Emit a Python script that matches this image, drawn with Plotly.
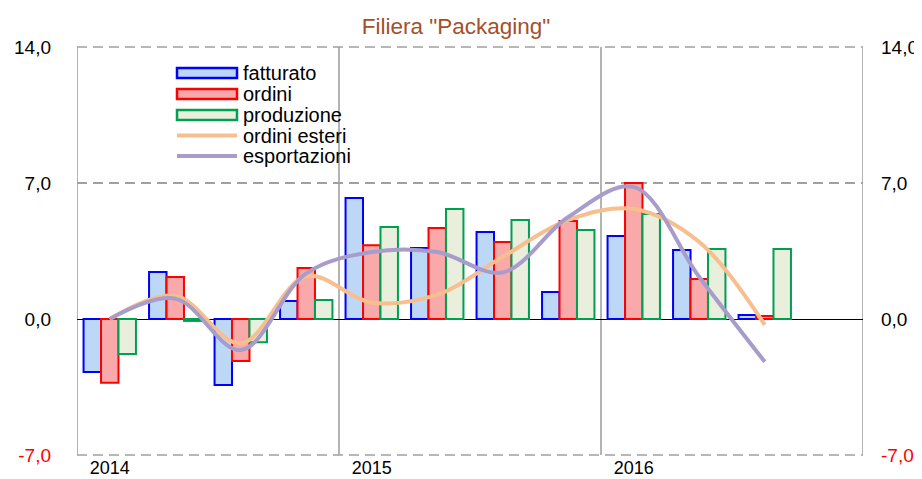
import plotly.graph_objects as go

quarters = ["2014 T1", "2014 T2", "2014 T3", "2014 T4",
            "2015 T1", "2015 T2", "2015 T3", "2015 T4",
            "2016 T1", "2016 T2", "2016 T3", "2016 T4"]
year_labels = ["2014", "2015", "2016"]
year_first_quarter = [0, 4, 8]
year_bounds = [-0.5, 3.5, 7.5, 11.5]

fatturato = [-2.73, 2.42, -3.40, 0.93, 6.23, 3.65, 4.48, 1.39, 4.27, 3.55, 0.20, None]
ordini = [-3.28, 2.16, -2.16, 2.62, 3.80, 4.68, 3.96, 5.04, 7.00, 2.06, 0.15, None]
produzione = [-1.80, -0.10, -1.20, 0.98, 4.73, 5.66, 5.10, 4.58, 5.40, 3.60, 3.60, None]
ordini_esteri = [0.0, 1.2, -1.25, 2.2, 0.85, 1.25, 3.2, 5.1, 5.66, 3.96, -0.3, None]
esportazioni = [0.0, 1.05, -1.6, 2.35, 3.45, 3.45, 2.4, 5.25, 6.8, 2.16, -2.2, None]

y_ticks = [-7, 0, 7, 14]

series_names = ["fatturato", "ordini", "produzione", "ordini esteri", "esportazioni"]
series_colors = {
    "fatturato": ("#BDD8F7", "#0000FF"),
    "ordini": ("#F9A9A9", "#FF0000"),
    "produzione": ("#E9EEDD", "#00A050"),
    "ordini esteri": (None, "#F8BF8E"),
    "esportazioni": (None, "#A89CCB"),
}

x = list(range(len(quarters)))
FONT = "Liberation Sans, Arial, sans-serif"

# The page body has an 8px default margin: size the figure so it ends at the window edge.
OFF = 8
FIG_W, FIG_H = 922 - OFF, 479 - OFF
# plot-area geometry in window pixels
L, R, T, B = 77, 863, 47, 455
W, H = R - L, B - T
def px(v):
    return (v - L) / W
def py(v):
    return (B - v) / H

fig = go.Figure()
for name, vals in [("fatturato", fatturato), ("ordini", ordini), ("produzione", produzione)]:
    fill, edge = series_colors[name]
    fig.add_trace(go.Bar(x=x, y=vals, name=name, showlegend=False,
                         marker=dict(color=fill, line=dict(color=edge, width=2))))
for name, vals in [("ordini esteri", ordini_esteri), ("esportazioni", esportazioni)]:
    fig.add_trace(go.Scatter(x=x, y=vals, name=name, mode="lines", showlegend=False,
                             line=dict(color=series_colors[name][1], width=4,
                                       shape="spline", smoothing=1.0)))
# invisible trace to activate the right axis
fig.add_trace(go.Scatter(x=[x[0]], y=[0], yaxis="y2", showlegend=False,
                         mode="markers", marker=dict(opacity=0), hoverinfo="skip"))

def tick_text(v):
    s = f"{v:.1f}".replace(".", ",")
    if v < 0:
        return f'<span style="color:#FF0000">{s}</span>'
    return s

ticktext = [tick_text(v) for v in y_ticks]

DASH = "10px,6px"
shapes = []
for b in year_bounds:
    shapes.append(dict(type="line", xref="x", yref="paper", x0=b, x1=b, y0=0, y1=1.0,
                       line=dict(color="#8C8C8C", width=1.3), layer="below"))
# dashed lines on the top and bottom edges (-7 and 14)
for yp in (0, 1):
    shapes.append(dict(type="line", xref="paper", yref="paper", x0=0, x1=1, y0=yp, y1=yp,
                       line=dict(color="#A0A0A0", width=1.5, dash=DASH), layer="below"))

# hand-drawn legend (wide symbols, tight rows as in the original)
annotations = []
row_y = [73, 94, 115, 135.5, 156]
sx0, sx1, tx = 177, 237, 241
for name, ry in zip(series_names, row_y):
    fill, edge = series_colors[name]
    if fill is not None:
        shapes.append(dict(type="rect", xref="paper", yref="paper",
                           x0=px(sx0), x1=px(sx1), y0=py(ry + 5), y1=py(ry - 5),
                           fillcolor=fill, line=dict(color=edge, width=2.5)))
    else:
        shapes.append(dict(type="line", xref="paper", yref="paper",
                           x0=px(sx0), x1=px(sx1), y0=py(ry), y1=py(ry),
                           line=dict(color=edge, width=4)))
    annotations.append(dict(text=name, xref="paper", yref="paper", x=px(tx), y=py(ry),
                            xanchor="left", yanchor="middle", showarrow=False,
                            font=dict(family=FONT, size=20, color="#000000")))

title_cx, title_cy = 456, 26  # window pixels

fig.update_layout(
    width=FIG_W, height=FIG_H,
    margin=dict(l=L - OFF, r=922 - R, t=T - OFF, b=479 - B),
    paper_bgcolor="white", plot_bgcolor="rgba(0,0,0,0)",
    title=dict(text='Filiera "Packaging"', x=(title_cx - OFF) / FIG_W, xanchor="center",
               y=1 - (title_cy - OFF) / FIG_H, yanchor="middle",
               font=dict(family=FONT, size=22.5, color="#A4502A")),
    font=dict(family=FONT, size=19, color="#000000"),
    barmode="group", bargap=0.2, bargroupgap=0,
    showlegend=False,
    xaxis=dict(range=[-0.5, 11.5], tickmode="array", tickvals=year_first_quarter,
               ticktext=year_labels, showgrid=False, zeroline=False, showline=False,
               ticks="", tickfont=dict(size=18), ticklabelstandoff=0, automargin=False),
    yaxis=dict(range=[-7, 14], tickmode="array", tickvals=y_ticks, ticktext=ticktext,
               showgrid=True, gridcolor="#A0A0A0", griddash=DASH, gridwidth=1.5,
               zeroline=True, zerolinecolor="#000000", zerolinewidth=1.3,
               showline=False, ticks="", tickfont=dict(size=19), ticklabelstandoff=25,
               automargin=False),
    yaxis2=dict(range=[-7, 14], overlaying="y", side="right", tickmode="array",
                tickvals=y_ticks, ticktext=ticktext, showgrid=False, zeroline=False,
                showline=False, ticks="", tickfont=dict(size=19), ticklabelstandoff=17,
                automargin=False),
    shapes=shapes,
    annotations=annotations,
)

fig.write_html("out.html")
